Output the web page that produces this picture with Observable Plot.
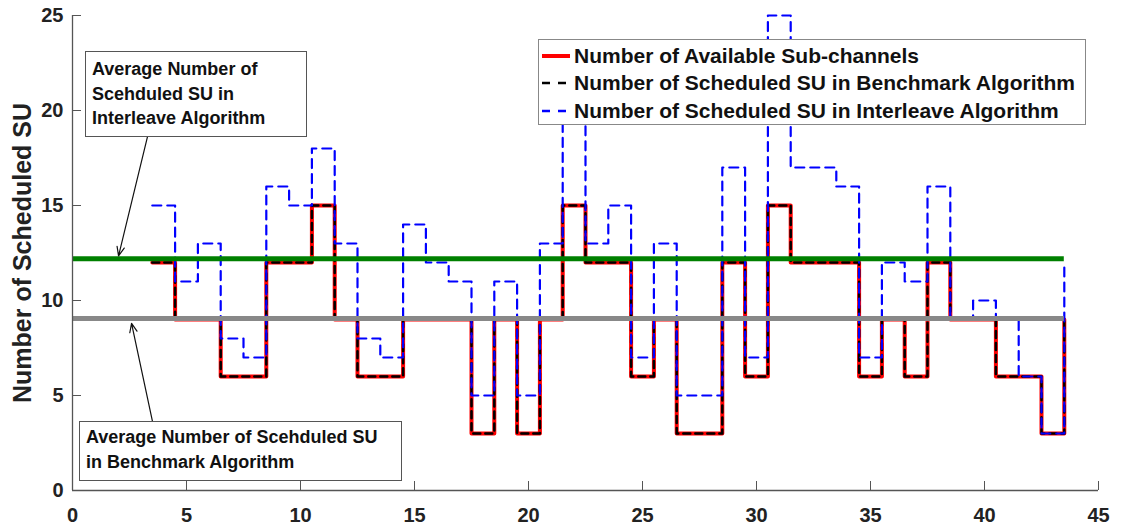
<!DOCTYPE html>
<html><head><meta charset="utf-8">
<script src="https://cdn.jsdelivr.net/npm/d3@7"></script>
<script src="https://cdn.jsdelivr.net/npm/@observablehq/plot@0.6"></script>
<style>
body{margin:0;background:#fff;}
#wrap{position:relative;width:1121px;height:530px;font-family:"Liberation Sans",Arial,Helvetica,sans-serif;}
.box{position:absolute;background:#fff;box-sizing:border-box;font-weight:bold;color:#111;white-space:nowrap;}
.ann{border:1.5px solid #555;font-size:18px;}
.legend{border:1px solid #888;font-size:21px;}
.row{display:flex;align-items:center;height:27.5px;}
.row svg{margin-left:3px;margin-right:4px;flex:none;}
</style></head><body><div id="wrap"></div>
<script>
// ---- data ----
const timeSlots = [3.5,4.5,5.5,6.5,7.5,8.5,9.5,10.5,11.5,12.5,13.5,14.5,15.5,16.5,17.5,18.5,19.5,20.5,21.5,22.5,23.5,24.5,25.5,26.5,27.5,28.5,29.5,30.5,31.5,32.5,33.5,34.5,35.5,36.5,37.5,38.5,39.5,40.5,41.5,42.5,43.5];
const availableSubchannels = [12,9,9,6,6,12,12,15,9,6,6,9,9,9,3,9,3,9,15,12,12,6,9,3,3,12,6,15,12,12,12,6,9,6,12,9,9,6,6,3,9];
const benchmarkSU = [12,9,9,6,6,12,12,15,9,6,6,9,9,9,3,9,3,9,15,12,12,6,9,3,3,12,6,15,12,12,12,6,9,6,12,9,9,6,6,3,9];
const interleaveSU = [15,11,13,8,7,16,15,18,13,8,7,14,12,11,5,11,5,13,20,13,15,7,13,5,5,17,7,25,17,17,16,7,12,11,16,9,10,9,6,3,12];
const avgInterleave = 12.2;
const avgBenchmark = 9.05;
const xTicks = [0,5,10,15,20,25,30,35,40,45];
const yTicks = [0,5,10,15,20,25];
const seriesNames = ["Number of Available Sub-channels","Number of Scheduled SU in Benchmark Algorithm","Number of Scheduled SU in Interleave Algorithm"];
const yLabel = "Number of Scheduled SU";
const annInterleave = ["Average Number of","Scehduled SU in","Interleave Algorithm"];
const annBenchmark = ["Average Number of Scehduled SU","in Benchmark Algorithm"];

// ---- layout / style (not data) ----
const seriesStyle = [
  {stroke:"#ff0000", width:4, dash:null},
  {stroke:"#000000", width:2.5, dash:"7,5"},
  {stroke:"#0000ff", width:2.2, dash:"9,6"}
];
const arrows = [
  {x1:3.29, y1:18.63, x2:2.02, y2:12.35},
  {x1:3.51, y1:3.63, x2:2.59, y2:8.8}
];

const rows = (ys) => timeSlots.map((t,i)=>({t, v: ys[i]}));
const lastSlot = d3.max(timeSlots);

const chart = Plot.plot({
  width:1121, height:530,
  marginLeft:72, marginRight:23, marginTop:15, marginBottom:40,
  x:{domain:[0,45]},
  y:{domain:[0,25]},
  style:{fontFamily:'"Liberation Sans", Arial, sans-serif', background:"white", color:"#222", overflow:"visible"},
  marks:[
    Plot.line(rows(availableSubchannels), {x:"t", y:"v", curve:"step-after", stroke:seriesStyle[0].stroke, strokeWidth:seriesStyle[0].width}),
    Plot.line(rows(benchmarkSU), {x:"t", y:"v", curve:"step-after", stroke:seriesStyle[1].stroke, strokeWidth:seriesStyle[1].width, strokeDasharray:seriesStyle[1].dash}),
    Plot.line(rows(interleaveSU), {x:"t", y:"v", curve:"step-after", stroke:seriesStyle[2].stroke, strokeWidth:seriesStyle[2].width, strokeDasharray:seriesStyle[2].dash}),
    Plot.ruleY([avgInterleave], {x1:0, x2:lastSlot, stroke:"#008000", strokeWidth:5}),
    Plot.ruleY([avgBenchmark], {x1:0, x2:lastSlot, stroke:"#888888", strokeWidth:5}),
    Plot.arrow(arrows, {x1:"x1", y1:"y1", x2:"x2", y2:"y2", stroke:"#111", strokeWidth:1.2, headLength:12, headAngle:45}),
    Plot.ruleY([0], {stroke:"#555", strokeWidth:1.3}),
    Plot.ruleX([0], {stroke:"#555", strokeWidth:1.3}),
    Plot.axisX({ticks:xTicks, tickSize:-9, tickPadding:26, stroke:"#555", fontSize:20, fontWeight:"bold", label:null}),
    Plot.axisY({ticks:yTicks, tickSize:-9, tickPadding:18, stroke:"#555", fontSize:20, fontWeight:"bold", label:null}),
    Plot.text([yLabel], {frameAnchor:"left", textAnchor:"middle", rotate:-90, dx:-50, fontSize:25, fontWeight:"bold", fill:"#222"})
  ]
});
const wrap = document.getElementById("wrap");
wrap.appendChild(chart);

function addBox(lines, cls, style) {
  const d = document.createElement("div");
  d.className = "box " + cls;
  Object.assign(d.style, style);
  lines.forEach(l => { const s = document.createElement("div"); s.textContent = l; s.style.lineHeight = style.lh; d.appendChild(s); });
  wrap.appendChild(d);
}
addBox(annInterleave, "ann", {left:"85px", top:"51px", width:"222px", height:"86px", padding:"5px 0 0 6px", lh:"24.5px"});
addBox(annBenchmark, "ann", {left:"79px", top:"421px", width:"323px", height:"60px", padding:"3px 0 0 6px", lh:"25px"});

// legend
const lg = document.createElement("div");
lg.className = "box legend";
Object.assign(lg.style, {left:"538px", top:"39px", width:"548px", height:"86px", paddingTop:"2px"});
seriesNames.forEach((name,i) => {
  const r = document.createElement("div"); r.className = "row";
  const st = seriesStyle[i];
  const svg = d3.create("svg").attr("width",28).attr("height",10);
  svg.append("line").attr("x1",0).attr("x2",28).attr("y1",5).attr("y2",5)
    .attr("stroke",st.stroke).attr("stroke-width", i===0?4:2.5)
    .attr("stroke-dasharray", st.dash ? "8,8" : null);
  r.appendChild(svg.node());
  const t = document.createElement("span"); t.textContent = name;
  r.appendChild(t);
  lg.appendChild(r);
});
wrap.appendChild(lg);
</script>
</body></html>
